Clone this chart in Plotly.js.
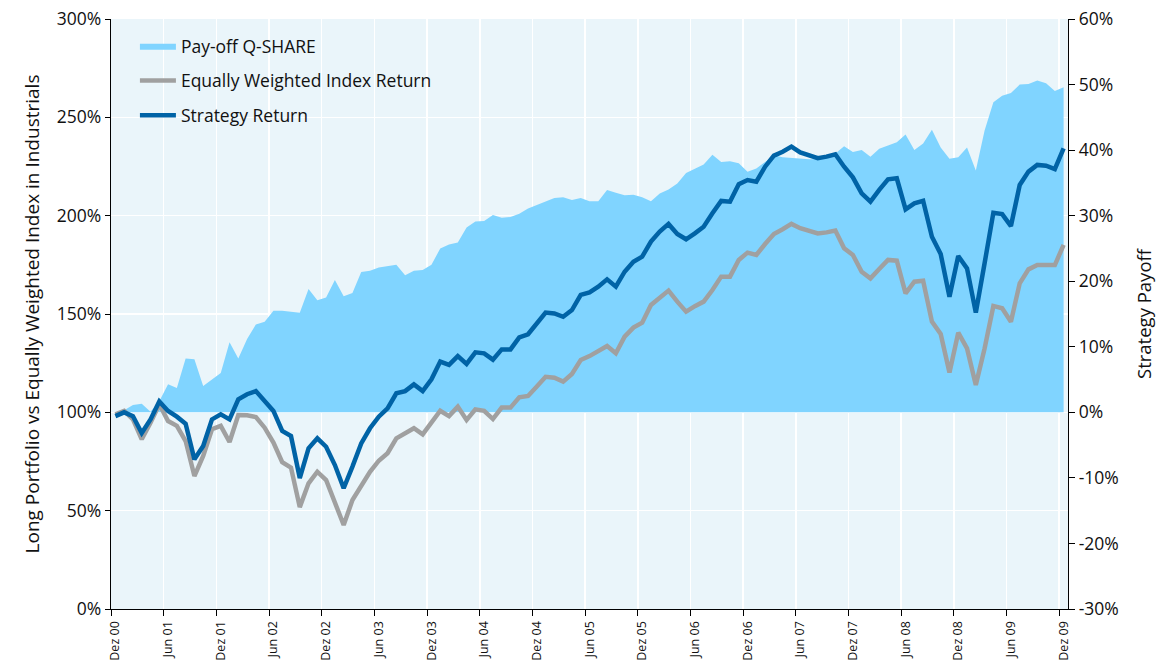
<!DOCTYPE html>
<html>
<head>
<meta charset="utf-8">
<script src="https://cdn.plot.ly/plotly-3.0.1.min.js"></script>
<style>html,body{margin:0;padding:0;background:#fff;}#chart{width:1169px;height:666px;}</style>
</head>
<body>
<div id="chart"></div>
<script>
// Month labels (one per tick, every 6 months from Dez 00 to Dez 09)
var tickLabels = ["Dez 00","Jun 01","Dez 01","Jun 02","Dez 02","Jun 03","Dez 03","Jun 04","Dez 04","Jun 05","Dez 05","Jun 06","Dez 06","Jun 07","Dez 07","Jun 08","Dez 08","Jun 09","Dez 09"];

// Right axis tick labels
var payoffTickVals = [-30,-20,-10,0,10,20,30,40,50,60];
var payoffTickText = ["-30%","-20%","-10%","0%","10%","20%","30%","40%","50%","60%"];

// Strategy Return (left axis, %), monthly Dez 00 .. Dez 09
var strategyReturn = [
 98.1,100.0,98.0,89.5,96.4,105.5,100.7,97.8,94.2,76.1,82.9,96.4,99.0,96.4,106.6,109.2,110.8,105.8,100.7,90.5,88.0,66.6,
 81.7,86.8,82.5,73.2,61.4,72.4,84.2,91.9,97.8,102.0,109.7,110.8,114.2,110.8,116.8,125.8,124.1,128.6,124.6,130.5,130.0,126.8,
 132.0,132.0,138.1,139.7,145.6,150.7,150.3,148.6,152.0,159.7,161.0,163.9,167.6,163.9,171.5,176.6,179.2,186.8,191.9,195.8,190.7,188.0,191.0,
 194.4,201.2,207.5,207.1,216.0,218.1,217.3,224.9,230.5,232.5,235.1,232.2,230.8,229.2,230.0,231.2,224.9,219.5,211.4,207.1,213.1,218.5,
 219.0,203.2,206.3,207.6,189.3,180.5,158.8,179.5,173.2,150.7,175.8,201.5,200.8,194.7,215.6,222.4,225.8,225.4,223.7,234.2
];

// Equally Weighted Index Return (left axis, %)
var indexReturn = [
 99.0,100.7,96.4,86.3,94.7,104.1,95.6,93.1,85.4,67.6,77.8,91.4,93.1,84.9,98.6,98.5,97.6,92.2,84.6,74.7,71.9,51.8,
 63.9,69.8,65.6,53.7,42.7,55.4,63.1,69.8,75.4,79.2,86.8,89.3,91.9,88.8,94.7,100.8,98.1,102.9,96.1,101.5,100.8,96.6,
 102.4,102.4,107.6,108.3,113.1,118.1,117.6,115.6,119.5,126.6,128.6,131.4,133.7,130.0,138.5,143.1,145.6,154.6,158.0,161.9,156.3,151.2,154.0,
 156.3,162.2,169.0,169.0,177.5,181.2,180.0,185.6,190.7,193.1,195.8,193.6,192.2,191.0,191.5,192.4,183.4,180.0,171.5,168.1,172.9,177.5,
 177.1,160.5,166.4,166.9,146.1,139.8,120.2,140.5,132.5,113.9,132.5,154.1,152.9,146.1,165.6,172.7,174.9,174.9,174.9,185.1
];

// Pay-off Q-SHARE (right axis, %)
var payoff = [
 0,0.3,1.1,1.3,0.1,1.7,4.3,3.7,8.2,8.1,4.0,5.0,6.0,10.7,8.2,11.2,13.4,13.8,15.5,15.5,15.3,15.2,
 18.8,17.1,17.5,20.2,17.7,18.2,21.4,21.6,22.1,22.3,22.5,20.9,21.6,21.7,22.5,25.0,25.6,25.9,28.2,29.1,29.2,30.1,
 29.7,29.8,30.3,31.1,31.6,32.2,32.7,32.8,32.4,32.7,32.2,32.2,33.9,33.5,33.1,33.2,32.8,32.2,33.4,34.0,34.9,36.5,37.2,
 37.8,39.3,38.2,38.3,38.0,36.7,37.2,38.2,39.2,38.9,38.8,38.6,38.6,38.6,38.8,39.5,40.6,39.7,40.0,39.0,40.2,40.7,
 41.2,42.4,40.0,41.0,43.1,40.4,38.7,38.9,40.4,36.9,43.0,47.3,48.3,48.7,50.0,50.1,50.6,50.2,49.0,49.6
];

var months = strategyReturn.map(function(_, i){ return i; });
var tickVals = tickLabels.map(function(_, k){ return k * 6; });
var tickBounds = tickVals.map(function(v){ return v - 0.5; });

var FONT = "Open Sans, Liberation Sans, sans-serif";
var TXT = '#111111';

var traces = [
  {
    x: months, y: payoff, xaxis: 'x', yaxis: 'y',
    type: 'scatter', mode: 'lines', fill: 'tozeroy',
    fillcolor: 'rgb(128,212,255)', line: {width: 0, color: 'rgb(128,212,255)'},
    name: 'Pay-off Q-SHARE', legendgroup: 'a', hoverinfo: 'skip'
  },
  {
    x: months, y: indexReturn, xaxis: 'x', yaxis: 'y2',
    type: 'scatter', mode: 'lines',
    line: {width: 4.5, color: 'rgb(160,160,160)'},
    name: 'Equally Weighted Index Return', legendgroup: 'b'
  },
  {
    x: months, y: strategyReturn, xaxis: 'x', yaxis: 'y2',
    type: 'scatter', mode: 'lines',
    line: {width: 4.5, color: 'rgb(0,99,166)'},
    name: 'Strategy Return', legendgroup: 'c'
  }
];

var layout = {
  width: 1169, height: 666,
  margin: {l: 111, r: 101, t: 19, b: 57},
  paper_bgcolor: '#ffffff',
  plot_bgcolor: 'rgb(234,245,250)',
  font: {family: FONT, size: 17, color: TXT},
  showlegend: true,
  legend: {
    x: 0.025, y: 0.985, xanchor: 'left', yanchor: 'top',
    bgcolor: 'rgba(0,0,0,0)', font: {family: FONT, size: 17.5, color: TXT},
    tracegroupgap: 9, itemwidth: 36
  },
  xaxis: {
    range: [-0.5, 108.5],
    tickmode: 'array', tickvals: tickVals, ticktext: tickLabels,
    tickangle: -90, tickfont: {family: FONT, size: 12.5, color: TXT},
    ticks: 'outside', ticklen: 6, tickcolor: 'rgba(0,0,0,0)',
    showgrid: false, zeroline: false,
    showline: true, linecolor: '#000', linewidth: 1.2,
    minor: {tickmode: 'array', tickvals: tickBounds, ticks: 'outside', ticklen: 6, tickcolor: '#000', tickwidth: 1,
            showgrid: true, gridcolor: '#ffffff', gridwidth: 1.5}
  },
  yaxis: {
    side: 'right', range: [-30, 60],
    tickmode: 'array', tickvals: payoffTickVals, ticktext: payoffTickText,
    showgrid: false, zeroline: false,
    showline: true, linecolor: '#000', linewidth: 1.2,
    ticks: 'outside', ticklen: 6, tickcolor: '#000',
    tickfont: {family: FONT, size: 17.5, color: TXT},
    title: {text: 'Strategy Payoff', font: {family: FONT, size: 18.5, color: TXT}, standoff: 20}
  },
  yaxis2: {
    overlaying: 'y', side: 'left', range: [0, 300], dtick: 50, tick0: 0, ticksuffix: '%',
    showgrid: true, gridcolor: '#ffffff', gridwidth: 1.5, zeroline: false,
    showline: true, linecolor: '#000', linewidth: 1.2,
    ticks: 'outside', ticklen: 5, tickcolor: '#000',
    tickfont: {family: FONT, size: 17.5, color: TXT},
    title: {text: 'Long Portfolio vs Equally Weighted Index in Industrials', font: {family: FONT, size: 19, color: TXT}, standoff: 12}
  }
};

Plotly.newPlot('chart', traces, layout, {displayModeBar: false, staticPlot: true});
</script>
</body>
</html>
